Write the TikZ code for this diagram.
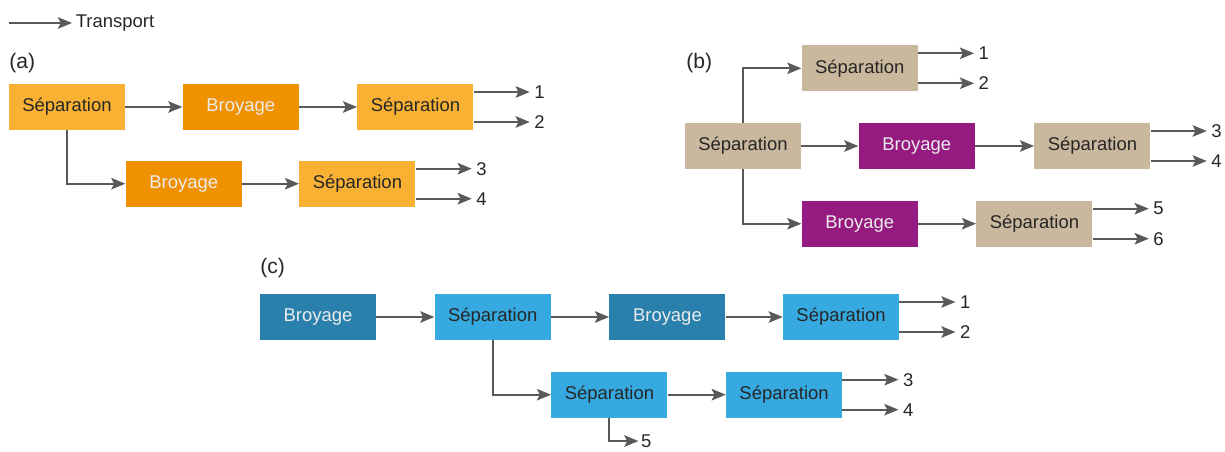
\documentclass[tikz,border=0pt]{standalone}
\usepackage{fontspec}
\setmainfont{Liberation Sans}
\usepackage{xcolor}
\usepackage{tikz}
\usetikzlibrary{positioning,arrows.meta}
\definecolor{orlight}{HTML}{F8B133}
\definecolor{ordark}{HTML}{F09100}
\definecolor{beige}{HTML}{C9B89D}
\definecolor{violet}{HTML}{951B81}
\definecolor{bluelight}{HTML}{36A9E1}
\definecolor{bluedark}{HTML}{2A80AC}
\definecolor{wire}{HTML}{595959}

\begin{document}
\begin{tikzpicture}[
  font=\fontsize{10.5}{12}\selectfont,
  box/.style={minimum width=2.32cm, minimum height=0.92cm, inner sep=0pt, text=black!85},
  dark/.style={box, text=white!92!black},
  arr/.style={-{Stealth[length=8pt,width=6.5pt,inset=1.6pt]}, line width=1.2pt, wire},
  num/.style={anchor=west, inner sep=2pt, text=black!85},
  tag/.style={anchor=west, inner sep=0pt, font=\fontsize{12}{14}\selectfont, text=black!85}
]
\useasboundingbox (0,0) rectangle (24.5,-9.04);

% legend
\coordinate (lg) at (0.18,-0.46);
\node[num] (lgtxt) at (1.44,-0.46) {Transport};
\draw[arr] (lg) -- (lgtxt.west);

% (a)
\node[tag] (ta) at (0.18,-1.27) {(a)};
\node[box, fill=orlight] (sepA) at (1.34,-2.14) {Séparation};
\node[dark, fill=ordark, right=1.14cm of sepA] (broyA) {Broyage};
\node[box, fill=orlight, right=1.16cm of broyA] (sepA2) {Séparation};
\node[dark, fill=ordark, anchor=north west] (broyA2) at ([yshift=-0.6cm]sepA.south east) {Broyage};
\node[box, fill=orlight, right=1.14cm of broyA2] (sepA3) {Séparation};
\draw[arr] (sepA) -- (broyA);
\draw[arr] (broyA) -- (sepA2);
\draw[arr] (sepA.south) |- (broyA2.west);
\draw[arr] (broyA2) -- (sepA3);
\draw[arr] ([yshift=0.3cm]sepA2.east) -- ++(1.12,0) node[num] (a1) {1};
\draw[arr] ([yshift=-0.3cm]sepA2.east) -- ++(1.12,0) node[num] (a2) {2};
\draw[arr] ([yshift=0.3cm]sepA3.east) -- ++(1.12,0) node[num] (a3) {3};
\draw[arr] ([yshift=-0.3cm]sepA3.east) -- ++(1.12,0) node[num] (a4) {4};

% (b)
\node[tag] (tb) at (13.72,-1.27) {(b)};
\node[box, fill=beige] (sepB) at (14.86,-2.92) {Séparation};
\node[dark, fill=violet, right=1.14cm of sepB] (broyB) {Broyage};
\node[box, fill=beige, right=1.18cm of broyB] (sepB2) {Séparation};
\node[box, fill=beige, anchor=south west] (sepB3) at ([yshift=0.62cm]sepB.north east) {Séparation};
\node[dark, fill=violet, anchor=north west] (broyB2) at ([yshift=-0.62cm]sepB.south east) {Broyage};
\node[box, fill=beige, right=1.16cm of broyB2] (sepB4) {Séparation};
\draw[arr] (sepB) -- (broyB);
\draw[arr] (broyB) -- (sepB2);
\draw[arr] (sepB.north) |- (sepB3.west);
\draw[arr] (sepB.south) |- (broyB2.west);
\draw[arr] (broyB2) -- (sepB4);
\draw[arr] ([yshift=0.3cm]sepB3.east) -- ++(1.12,0) node[num] (b1) {1};
\draw[arr] ([yshift=-0.3cm]sepB3.east) -- ++(1.12,0) node[num] (b2) {2};
\draw[arr] ([yshift=0.3cm]sepB2.east) -- ++(1.12,0) node[num] (b3) {3};
\draw[arr] ([yshift=-0.3cm]sepB2.east) -- ++(1.12,0) node[num] (b4) {4};
\draw[arr] ([yshift=0.3cm]sepB4.east) -- ++(1.12,0) node[num] (b5) {5};
\draw[arr] ([yshift=-0.3cm]sepB4.east) -- ++(1.12,0) node[num] (b6) {6};

% (c)
\node[tag] (tc) at (5.2,-5.36) {(c)};
\node[dark, fill=bluedark] (broyC) at (6.36,-6.34) {Broyage};
\node[box, fill=bluelight, right=1.16cm of broyC] (sepC) {Séparation};
\node[dark, fill=bluedark, right=1.16cm of sepC] (broyC2) {Broyage};
\node[box, fill=bluelight, right=1.14cm of broyC2] (sepC2) {Séparation};
\node[box, fill=bluelight, anchor=north west] (sepC3) at ([yshift=-0.62cm]sepC.south east) {Séparation};
\node[box, fill=bluelight, right=1.16cm of sepC3] (sepC4) {Séparation};
\draw[arr] (broyC) -- (sepC);
\draw[arr] (sepC) -- (broyC2);
\draw[arr] (broyC2) -- (sepC2);
\draw[arr] (sepC.south) |- (sepC3.west);
\draw[arr] (sepC3) -- (sepC4);
\draw[arr] ([yshift=0.3cm]sepC2.east) -- ++(1.12,0) node[num] (c1) {1};
\draw[arr] ([yshift=-0.3cm]sepC2.east) -- ++(1.12,0) node[num] (c2) {2};
\draw[arr] ([yshift=0.3cm]sepC4.east) -- ++(1.12,0) node[num] (c3) {3};
\draw[arr] ([yshift=-0.3cm]sepC4.east) -- ++(1.12,0) node[num] (c4) {4};
\draw[arr] (sepC3.south) -- ++(0,-0.46) -- ++(0.58,0) node[num, inner sep=1pt] (c5) {5};
\end{tikzpicture}
\end{document}
